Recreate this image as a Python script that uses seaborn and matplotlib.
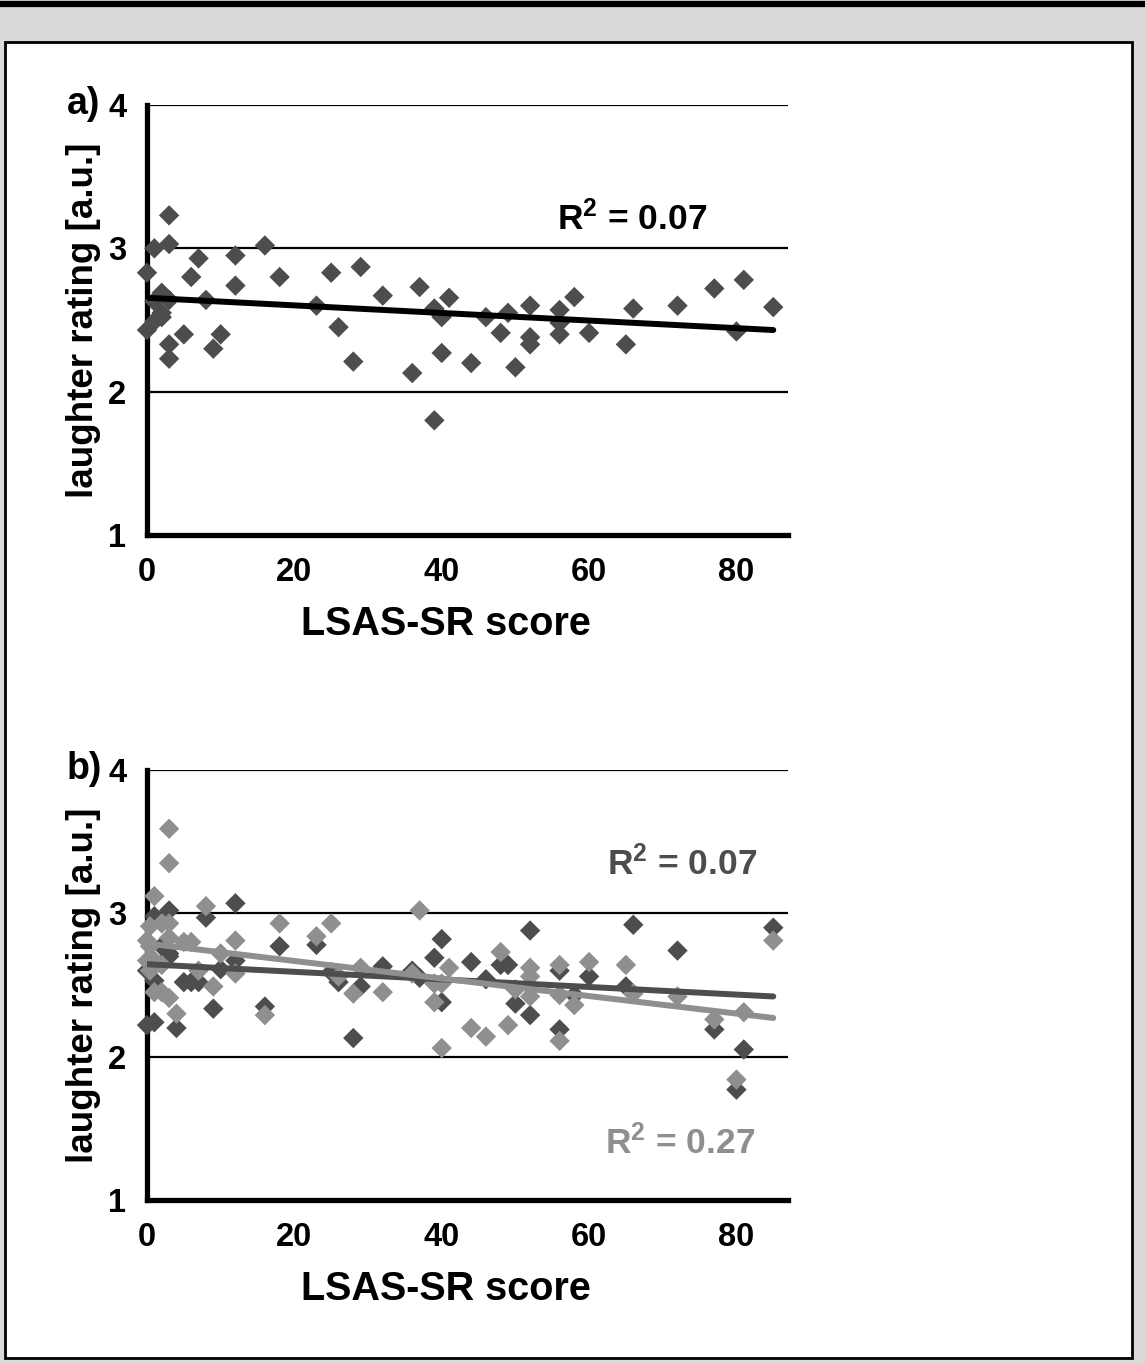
import matplotlib
matplotlib.use("Agg")
import matplotlib.pyplot as plt
from matplotlib.patches import Rectangle
from matplotlib.lines import Line2D
import seaborn as sns
import pandas as pd

# ---------------- data ----------------
# Panel a
a_lsas = [3, 3, 1, 0, 7, 12, 16, 6, 18, 12, 2, 3, 1, 2, 1, 2, 0, 8, 5, 10, 3, 9, 3,
          23, 25, 26, 29, 28, 32, 37, 39, 40, 41, 40, 36, 39, 44, 46, 48, 49, 50,
          52, 52, 52, 56, 56, 56, 58, 60, 65, 66, 72, 77, 81, 80, 85]
a_rating = [3.23, 3.03, 3.00, 2.83, 2.93, 2.95, 3.02, 2.80, 2.80, 2.74, 2.69, 2.64, 2.63,
            2.55, 2.49, 2.52, 2.43, 2.64, 2.40, 2.40, 2.33, 2.30, 2.23,
            2.60, 2.83, 2.45, 2.87, 2.21, 2.67, 2.73, 2.58, 2.52, 2.655, 2.27, 2.13,
            1.80, 2.20, 2.52, 2.41, 2.55, 2.17, 2.60, 2.38, 2.33, 2.57, 2.48, 2.40,
            2.66, 2.41, 2.33, 2.58, 2.60, 2.72, 2.78, 2.42, 2.59]
a_fit_x = [0, 85]
a_fit_y = [2.655, 2.43]
a_r2 = "0.07"

# Panel b, dark series
bd_lsas = [3, 1, 8, 12, 2, 12, 10, 3, 3, 0, 1, 5, 6, 7, 9, 4, 0, 1, 16, 18, 23, 25, 26,
           29, 28, 32, 40, 39, 36, 37, 40, 44, 46, 48, 49, 50, 52, 52, 56, 56, 58, 60,
           65, 66, 72, 77, 81, 80, 85]
bd_rating = [3.02, 2.98, 2.97, 3.07, 2.77, 2.67, 2.61, 2.72, 2.70, 2.60, 2.53, 2.52, 2.52,
             2.52, 2.335, 2.20, 2.22, 2.24, 2.35, 2.77, 2.78, 2.59, 2.52, 2.49, 2.13,
             2.63, 2.82, 2.69, 2.60, 2.55, 2.38, 2.66, 2.54, 2.64, 2.64, 2.37, 2.88,
             2.29, 2.60, 2.19, 2.43, 2.56, 2.49, 2.92, 2.74, 2.19, 2.05, 1.77, 2.90]
bd_fit_x = [0, 85]
bd_fit_y = [2.645, 2.42]
bd_r2 = "0.07"

# Panel b, light series
bl_lsas = [3, 3, 1, 8, 0.4, 2, 3, 0, 0.4, 3, 5, 6, 10, 12, 7, 12, 0, 1, 2, 0.4, 1, 2, 3,
           9, 4, 16, 18, 23, 25, 26, 29, 28, 32, 37, 36, 39, 40, 39, 40, 41, 44, 46,
           48, 50, 49, 52, 52, 52, 56, 56, 56, 58, 60, 65, 66, 72, 77, 81, 80, 85]
bl_rating = [3.59, 3.35, 3.12, 3.05, 2.91, 2.93, 2.93, 2.81, 2.77, 2.83, 2.80, 2.80, 2.72,
             2.81, 2.60, 2.58, 2.67, 2.67, 2.64, 2.60, 2.45, 2.45, 2.41, 2.49, 2.30,
             2.29, 2.93, 2.84, 2.93, 2.56, 2.62, 2.44, 2.45, 3.02, 2.58, 2.51, 2.51,
             2.38, 2.06, 2.62, 2.20, 2.14, 2.73, 2.47, 2.22, 2.62, 2.56, 2.42, 2.64,
             2.43, 2.11, 2.36, 2.66, 2.64, 2.44, 2.42, 2.26, 2.31, 1.84, 2.81]
bl_fit_x = [0, 85]
bl_fit_y = [2.79, 2.27]
bl_r2 = "0.27"

x_ticks = [0, 20, 40, 60, 80]
y_ticks = [1, 2, 3, 4]
x_label = "LSAS-SR score"
y_label = "laughter rating [a.u.]"

DARK = "#4d4d4d"
LIGHT = "#8f8f8f"

# ---------------- style ----------------
sns.set_theme(style="white")
plt.rcParams["font.family"] = ["Liberation Sans", "DejaVu Sans"]
plt.rcParams["font.weight"] = "bold"
plt.rcParams["mathtext.fontset"] = "custom"
plt.rcParams["mathtext.rm"] = "Liberation Sans:bold"
plt.rcParams["mathtext.bf"] = "Liberation Sans:bold"
plt.rcParams["mathtext.it"] = "Liberation Sans:bold"

W, H = 1145, 1364
fig = plt.figure(figsize=(W / 100, H / 100), dpi=100)
fig.patch.set_facecolor("#d9d9d9")

# outer decorations
fig.add_artist(Line2D([0, 1], [1 - 3.5 / H] * 2, color="black", lw=4.5,
                      transform=fig.transFigure))
fig.add_artist(Rectangle((5 / W, 1 - 1358 / H), (1132 - 5) / W, (1358 - 42) / H,
                         facecolor="white", edgecolor="black", lw=2,
                         transform=fig.transFigure, zorder=-1))


def style_axes(ax):
    ax.set_xlim(0, 87)
    ax.set_ylim(1, 4)
    ax.set_xticks(x_ticks)
    ax.set_yticks(y_ticks)
    for s in ["top", "right"]:
        ax.spines[s].set_visible(False)
    for s in ["left", "bottom"]:
        ax.spines[s].set_linewidth(3.8)
        ax.spines[s].set_color("black")
        ax.spines[s].set_capstyle("projecting")
    ax.tick_params(axis="both", direction="out", length=12, width=3.8,
                   color="black", labelsize=23.5, labelcolor="black")
    ax.tick_params(axis="x", pad=4)
    ax.tick_params(axis="y", pad=3)
    for lab in ax.get_xticklabels() + ax.get_yticklabels():
        lab.set_fontweight("bold")
    ax.grid(False)
    for yv in [2, 3, 4]:
        ax.axhline(yv, color="black", lw=1.6, zorder=1)
    ax.set_xlabel(x_label, fontsize=28.5, fontweight="bold", color="black")
    ax.set_ylabel(y_label, fontsize=26.5, fontweight="bold", color="black")
    ax.xaxis.set_label_coords(0.466, -0.163)
    ax.yaxis.set_label_coords(-0.072, 0.5)
    ax.xaxis.label.set_va("top")
    ax.set_facecolor("white")


MS = 108

# ---------------- panel a ----------------
ax_a = fig.add_axes([147 / W, 1 - 535 / H, 641 / W, 430 / H])
style_axes(ax_a)
sns.scatterplot(x=a_lsas, y=a_rating, marker="D", s=MS, color=DARK,
                edgecolor="none", linewidth=0, ax=ax_a, zorder=3, clip_on=False,
                legend=False)
sns.lineplot(x=a_fit_x, y=a_fit_y, color="black", lw=4.3, ax=ax_a, zorder=4,
             legend=False)
ax_a.text(55.6, 3.21, r"$\mathbf{R^2}$" + f" = {a_r2}", fontsize=25.5,
          fontweight="bold", color="black", ha="left", va="center")
fig.text(67 / W, 1 - 104 / H, "a)", fontsize=27, fontweight="bold",
         ha="left", va="center", color="black")

# ---------------- panel b ----------------
ax_b = fig.add_axes([147 / W, 1 - 1200 / H, 641 / W, 430 / H])
style_axes(ax_b)
sns.scatterplot(x=bd_lsas, y=bd_rating, marker="D", s=MS, color=DARK,
                edgecolor="none", linewidth=0, ax=ax_b, zorder=3, clip_on=False,
                legend=False)
sns.scatterplot(x=bl_lsas, y=bl_rating, marker="D", s=MS, color=LIGHT,
                edgecolor="none", linewidth=0, ax=ax_b, zorder=3.1, clip_on=False,
                legend=False)
sns.lineplot(x=bd_fit_x, y=bd_fit_y, color=DARK, lw=4.3, ax=ax_b, zorder=4,
             legend=False)
sns.lineplot(x=bl_fit_x, y=bl_fit_y, color=LIGHT, lw=4.3, ax=ax_b, zorder=4.1,
             legend=False)
ax_b.text(62.5, 3.35, r"$\mathbf{R^2}$" + f" = {bd_r2}", fontsize=25.5,
          fontweight="bold", color=DARK, ha="left", va="center")
ax_b.text(62.1, 1.40, r"$\mathbf{R^2}$" + f" = {bl_r2}", fontsize=25.5,
          fontweight="bold", color=LIGHT, ha="left", va="center")
fig.text(67 / W, 1 - 769 / H, "b)", fontsize=27, fontweight="bold",
         ha="left", va="center", color="black")

fig.savefig("out.png", dpi=100, facecolor=fig.get_facecolor())
